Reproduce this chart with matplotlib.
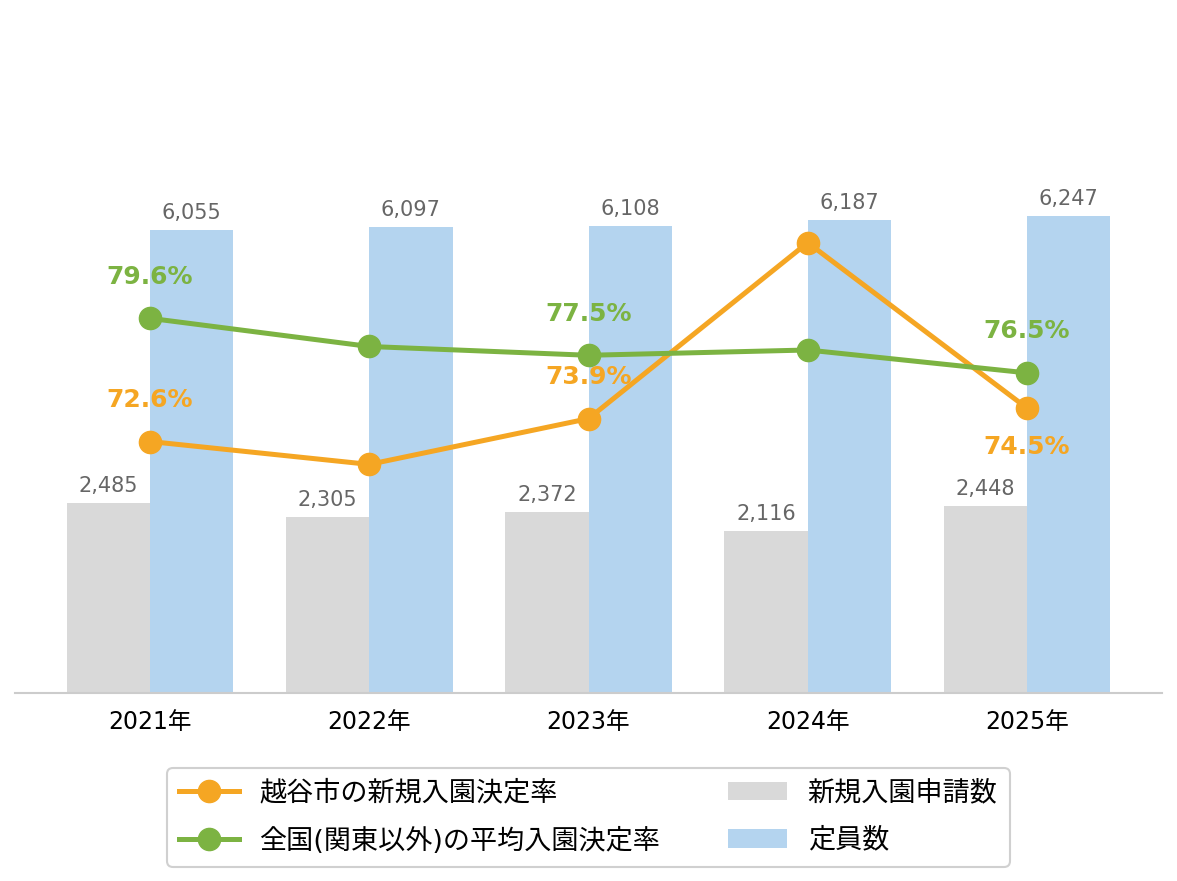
import matplotlib
matplotlib.use('Agg')
import matplotlib.pyplot as plt
import numpy as np

plt.rcParams['font.family'] = ['DejaVu Sans', 'Noto Sans CJK JP']

# Data
years = ['2021年', '2022年', '2023年', '2024年', '2025年']
applicants = [2485, 2305, 2372, 2116, 2448]      # 新規入園申請数
capacity = [6055, 6097, 6108, 6187, 6247]        # 定員数
koshigaya_rate = [72.6, 71.3, 73.9, 83.9, 74.5]  # 越谷市の新規入園決定率 (%)
national_rate = [79.6, 78.0, 77.5, 77.8, 76.5]   # 全国(関東以外)の平均入園決定率 (%)

# which points get a percentage label, and where (above / below)
koshigaya_labels = {0: 'above', 2: 'above', 4: 'below'}
national_labels = {0: 'above', 2: 'above', 4: 'above'}

GREY = '#d9d9d9'
BLUE = '#b4d4ef'
ORANGE = '#f5a623'
GREEN = '#7cb342'
LABEL_GREY = '#666666'

fig = plt.figure(figsize=(11.77, 8.81), dpi=100)
ax = fig.add_axes([15 / 1177, 188 / 881, 1147 / 1177, 535 / 881])

x = np.arange(len(years))
w = 0.38
bars_app = ax.bar(x - w / 2, applicants, w, color=GREY, label='新規入園申請数', zorder=1)
bars_cap = ax.bar(x + w / 2, capacity, w, color=BLUE, label='定員数', zorder=1)

for bars in (bars_app, bars_cap):
    for b in bars:
        ax.annotate(f'{int(b.get_height()):,}',
                    (b.get_x() + b.get_width() / 2, b.get_height()),
                    xytext=(0, 5), textcoords='offset points',
                    ha='center', va='bottom', fontsize=15, color=LABEL_GREY)

ax.set_ylim(0, 7000)
ax.set_xlim(-0.616, len(years) - 1 + 0.616)
ax.set_xticks(x)
ax.set_xticklabels(years, fontsize=17)
ax.tick_params(axis='x', length=0, pad=12)
ax.set_yticks([])
for side in ('top', 'left', 'right'):
    ax.spines[side].set_visible(False)
ax.spines['bottom'].set_color('#cccccc')
ax.spines['bottom'].set_linewidth(1.5)

# Secondary axis for rates
ax2 = ax.twinx()
ax2.set_ylim(58.31, 88.71)
ax2.set_yticks([])
for side in ('top', 'left', 'right', 'bottom'):
    ax2.spines[side].set_visible(False)

l1, = ax2.plot(x, koshigaya_rate, color=ORANGE, lw=3.6, marker='o', ms=16,
               label='越谷市の新規入園決定率', zorder=3)
l2, = ax2.plot(x, national_rate, color=GREEN, lw=3.6, marker='o', ms=16,
               label='全国(関東以外)の平均入園決定率', zorder=3)

for vals, labels, color in ((koshigaya_rate, koshigaya_labels, ORANGE),
                            (national_rate, national_labels, GREEN)):
    for i, pos in labels.items():
        off = 30 if pos == 'above' else -28
        ax2.annotate(f'{vals[i]:.1f}%', (x[i], vals[i]), xytext=(0, off),
                     textcoords='offset points', ha='center', va='center',
                     fontsize=18, fontweight='bold', color=color, zorder=4)

leg = fig.legend(handles=[l1, l2, bars_app, bars_cap], loc='center',
                 bbox_to_anchor=(0.5, 0.072), ncol=2, fontsize=19.5,
                 frameon=True, edgecolor='#d0d0d0', framealpha=1,
                 handlelength=2.2, handletextpad=0.75, columnspacing=2.5,
                 labelspacing=0.78, borderpad=0.45)
leg.get_frame().set_linewidth(1.5)

fig.savefig('out.png', dpi=100)
